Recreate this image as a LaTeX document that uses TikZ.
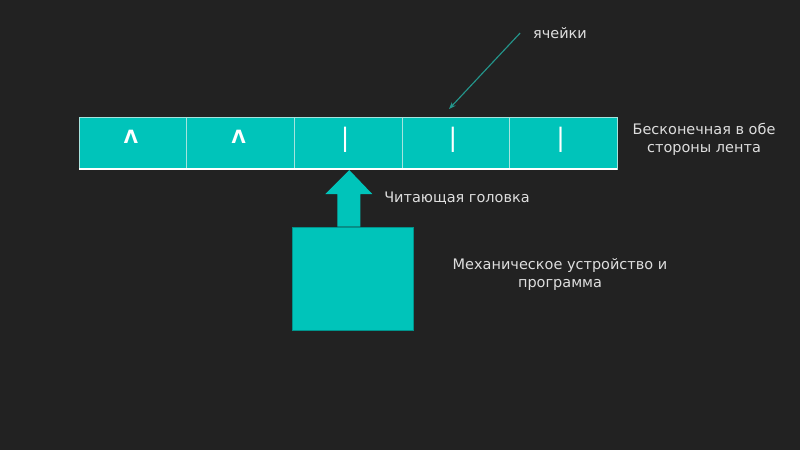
\documentclass[tikz,border=0pt]{standalone}
\usepackage{fontspec}
\setmainfont{DejaVu Sans}
\usetikzlibrary{arrows.meta, positioning, calc}

\definecolor{bgdark}{RGB}{34,34,34}
\definecolor{tapeteal}{RGB}{0,196,186}
\definecolor{pointerteal}{RGB}{36,150,140}
\definecolor{celledge}{RGB}{165,228,222}
\definecolor{labelgray}{RGB}{222,222,222}

\begin{document}
\begin{tikzpicture}[x=0.025cm, y=-0.025cm,
    every node/.style={font=\fontsize{10.3}{12.8}\selectfont},
    cell/.style={draw=celledge, fill=tapeteal, line width=0.6pt,
        minimum width=2.69cm, minimum height=1.3cm, inner sep=0pt, outer sep=0pt},
    symbol/.style={font=\fontsize{13}{13}\selectfont\bfseries, text=white},
    barsym/.style={font=\fontsize{18}{18}\selectfont, text=white},
    caption/.style={align=center, text=labelgray}
]

% dark slide background fixes the frame
\fill[bgdark] (0,0) rectangle (800,450);

% the tape
\node[cell] (c1) at (133,143) {};
\foreach \i [remember=\i as \last (initially 1)] in {2,...,5}
    \node[cell, right=0pt of c\last] (c\i) {};
\draw[white, line width=1.5pt] (c1.south west) -- (c5.south east);

% symbols on the tape
\foreach \i in {1,2}
    \node[symbol] (s\i) at ($(c\i.center)+(-2,-6)$) {Λ};
\foreach \i in {3,4,5}
    \node[barsym] (s\i) at ($(c\i.center)+(-3,-3)$) {|};

% mechanical unit and reading head
\node[draw=tapeteal!75!black, fill=tapeteal, line width=0.6pt,
    minimum width=3.025cm, minimum height=2.575cm] (unit) at (352.5,278.5) {};
\coordinate (tip) at ($(c3.south)+(1,1)$);
\coordinate (shaftL) at ($(tip)+(-12,0)$);
\coordinate (shaftR) at ($(tip)+(11,0)$);
\fill[tapeteal] (tip) -- ++(23,24) -- ($(shaftR)+(0,24)$) -- (shaftR |- unit.north)
    -- (shaftL |- unit.north) -- ($(shaftL)+(0,24)$) -- ++(-12,0) -- cycle;

% labels
\node[caption] (cellslabel) at (560,33) {ячейки};
\coordinate (celltop) at (449,109);
\draw[pointerteal, line width=0.8pt, -{Stealth[length=5pt]}]
    ([xshift=-0.2cm]cellslabel.west) -- (celltop);

\node[caption] (tapelabel) at (704,139) {Бесконечная в обе\\стороны лента};
\node[caption] (headlabel) at (457,198) {Читающая головка};
\node[caption] (unitlabel) at (560,274) {Механическое устройство и\\программа};

\end{tikzpicture}
\end{document}
